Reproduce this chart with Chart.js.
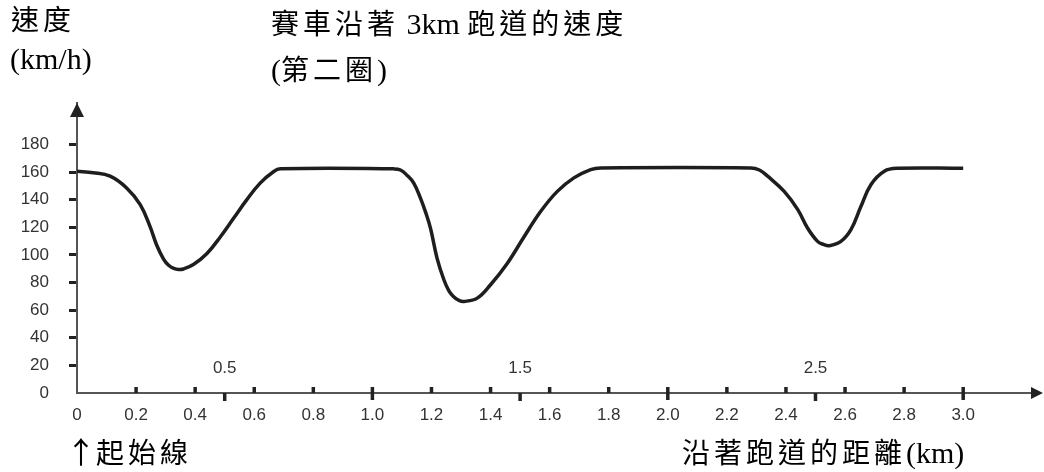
<!DOCTYPE html>
<html>
<head>
<meta charset="utf-8">
<title>賽車沿著 3km 跑道的速度</title>
<script src="https://cdn.jsdelivr.net/npm/chart.js"></script>
<style>
  html, body { margin: 0; padding: 0; background: #fff; }
  #wrap { position: relative; width: 1044px; height: 472px; overflow: hidden; }
  .txt { position: absolute; font-family: "Liberation Serif", "Noto Sans CJK TC", serif; font-size: 28px; line-height: 1; color: #000; letter-spacing: 4px; white-space: nowrap; }
  .lat { font-family: "Liberation Serif", serif; font-size: 30px; letter-spacing: 0; }
  .arr { font-family: "Noto Sans CJK TC", sans-serif; font-size: 30px; letter-spacing: 0; display: inline-block; width: 30px; margin-left: -8px; text-align: center; }
</style>
</head>
<body>
<div id="wrap">
  <canvas id="myChart" width="1044" height="472"></canvas>
  <div class="txt" style="left:11px; top:7px">速度</div>
  <div class="txt" style="left:10px; top:44px"><span class="lat">(km/h)</span></div>
  <div class="txt" style="left:271px; top:9px">賽車沿著<span class="lat"> 3km </span>跑道的速度</div>
  <div class="txt" style="left:271px; top:55px"><span class="lat">(</span>第二圈<span class="lat">)</span></div>
  <div class="txt" style="left:74px; top:435px"><span class="arr">↑</span>起始線</div>
  <div class="txt" style="left:682px; top:438px">沿著跑道的距離<span class="lat">(km)</span></div>
</div>

<script>
// distance along the track (km) and speed (km/h)
var distance = [0, 0.055, 0.112, 0.168, 0.214, 0.247, 0.27, 0.293, 0.31, 0.33, 0.345, 0.36, 0.394, 0.44, 0.485, 0.53, 0.575, 0.62, 0.665, 0.688,
                1.072, 1.095, 1.118, 1.14, 1.163, 1.18, 1.197, 1.219, 1.242, 1.259, 1.276, 1.293, 1.31, 1.355, 1.4, 1.457, 1.513, 1.57, 1.626, 1.682, 1.739, 1.773,
                2.281, 2.31, 2.338, 2.394, 2.44, 2.473, 2.507, 2.527, 2.547, 2.586, 2.62, 2.654, 2.688, 2.733, 2.779, 3.0];
var speed = [160.5, 159.5, 157, 148.5, 136.4, 120.7, 107, 97, 92.5, 90, 89.5, 89.8, 93, 101, 113, 126.5, 140, 152, 160.2, 162.3,
             162.3, 161.5, 157.5, 152, 141, 131, 119, 97.5, 82, 74, 69.5, 67, 66.3, 68.7, 78.4, 94, 113, 131.6, 146, 155.8, 161.8, 163,
             163, 161.5, 157, 146, 132.8, 119.5, 109.8, 107.6, 106.7, 109.8, 118.3, 135.2, 151, 160.6, 162.7, 162.7];

var xTicks = [0, 0.2, 0.4, 0.6, 0.8, 1.0, 1.2, 1.4, 1.6, 1.8, 2.0, 2.2, 2.4, 2.6, 2.8, 3.0];
var xTickLabels = ['0', '0.2', '0.4', '0.6', '0.8', '1.0', '1.2', '1.4', '1.6', '1.8', '2.0', '2.2', '2.4', '2.6', '2.8', '3.0'];
var halfTicks = [0.5, 1.5, 2.5];
var halfTickLabels = ['0.5', '1.5', '2.5'];
var yTicks = [0, 20, 40, 60, 80, 100, 120, 140, 160, 180];

// extra axis decoration: x tick marks, half-km marks with labels, arrow heads
var axisExtras = {
    id: 'axisExtras',
    afterDraw: function(chart) {
        var ctx = chart.ctx;
        var xs = chart.scales.x, ys = chart.scales.y;
        var y0 = ys.getPixelForValue(0);
        var x0 = xs.left;
        ctx.save();
        ctx.strokeStyle = '#222';
        ctx.lineWidth = 3.5;
        xTicks.forEach(function(v) {
            if (v === 0) return;
            var px = xs.getPixelForValue(v);
            var major = Math.abs(v - Math.round(v)) < 1e-9;
            ctx.beginPath();
            ctx.moveTo(px, y0 - 6);
            ctx.lineTo(px, major ? y0 + 7 : y0);
            ctx.stroke();
        });
        ctx.font = '17px "Liberation Sans", Arial, sans-serif';
        ctx.fillStyle = '#333';
        ctx.textAlign = 'center';
        ctx.textBaseline = 'middle';
        halfTicks.forEach(function(v, i) {
            var px = xs.getPixelForValue(v);
            ctx.beginPath();
            ctx.moveTo(px, y0);
            ctx.lineTo(px, y0 + 8);
            ctx.stroke();
            ctx.fillText(halfTickLabels[i], px, y0 - 25);
        });
        // arrow heads
        ctx.fillStyle = '#222';
        ctx.beginPath();
        ctx.moveTo(x0, ys.top);
        ctx.lineTo(x0 - 7, ys.top + 14);
        ctx.lineTo(x0 + 7, ys.top + 14);
        ctx.closePath();
        ctx.fill();
        ctx.beginPath();
        ctx.moveTo(xs.right + 3, y0);
        ctx.lineTo(xs.right - 9, y0 - 6);
        ctx.lineTo(xs.right - 9, y0 + 6);
        ctx.closePath();
        ctx.fill();
        ctx.restore();
    }
};

var ctx = document.getElementById('myChart').getContext('2d');
var myChart = new Chart(ctx, {
    type: 'line',
    data: {
        datasets: [{
            label: '速度',
            data: distance.map(function(d, i) { return {x: d, y: speed[i]}; }),
            borderColor: '#1e1e1e',
            borderWidth: 3.5,
            pointRadius: 0,
            fill: false,
            tension: 0.4
        }]
    },
    options: {
        responsive: false,
        animation: false,
        layout: { padding: { top: 103, right: 4, left: 0, bottom: 0 } },
        plugins: {
            legend: { display: false },
            tooltip: { enabled: false }
        },
        scales: {
            x: {
                type: 'linear',
                min: 0,
                max: 3.26,
                afterFit: function(s) { s.height = 79; },
                afterBuildTicks: function(s) { s.ticks = xTicks.map(function(v) { return {value: v}; }); },
                grid: { drawOnChartArea: false, drawTicks: false },
                border: { color: '#555', width: 2 },
                ticks: {
                    padding: 12,
                    autoSkip: false,
                    maxRotation: 0,
                    color: '#333',
                    font: { family: '"Liberation Sans", Arial, sans-serif', size: 17 },
                    callback: function(v, i) { return xTickLabels[i]; }
                }
            },
            y: {
                min: 0,
                max: 210,
                afterFit: function(s) { s.width = 77; },
                afterBuildTicks: function(s) { s.ticks = yTicks.map(function(v) { return {value: v}; }); },
                grid: {
                    drawOnChartArea: false,
                    tickLength: 8,
                    tickWidth: 3,
                    tickColor: function(c) { return c.tick && c.tick.value === 0 ? 'rgba(0,0,0,0)' : '#222'; }
                },
                border: { color: '#555', width: 2 },
                ticks: {
                    padding: 20,
                    color: '#333',
                    font: { family: '"Liberation Sans", Arial, sans-serif', size: 17 }
                }
            }
        }
    },
    plugins: [axisExtras]
});
</script>
</body>
</html>
